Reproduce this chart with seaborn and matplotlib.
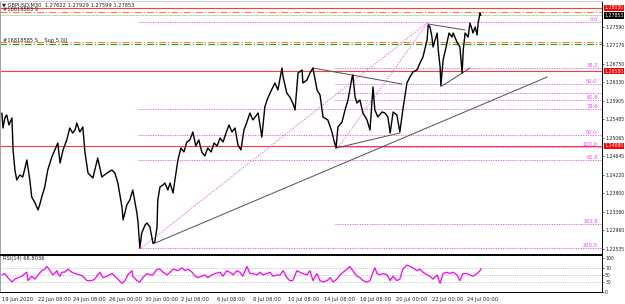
import matplotlib
matplotlib.use("Agg")
import matplotlib.pyplot as plt
import matplotlib.transforms as mtransforms
import seaborn as sns
import pandas as pd

# M30 bars counted from 19 Jun 2020 00:00, one date label every 96 bars
price_bar = [0, 3, 8, 13, 19, 27, 30, 35, 40, 48, 56, 62, 67, 75, 80, 89, 97, 102, 107, 115,
             123, 134, 142, 150, 156, 164, 174, 182, 190, 196, 201, 209, 217, 223, 231, 244, 257, 268, 282, 295,
             303, 311, 322, 325, 335, 343, 351, 362, 365, 370, 375, 384, 389, 397, 405, 410, 416, 418, 424, 432,
             437, 445, 451, 459, 464, 472, 480, 488, 496, 504, 512, 520, 528, 536, 544, 552, 561, 569, 577, 585,
             593, 601, 609, 617, 625, 633, 641, 649, 657, 665, 673, 687, 697, 705, 711, 719, 732, 740, 751, 754,
             764, 772, 780, 786, 794, 805, 807, 818, 826, 834, 845, 853, 861, 874, 885, 890, 896, 901, 912, 920,
             928, 939, 941, 947, 952, 960, 968, 979, 987, 995, 1000, 1008, 1019, 1027, 1035, 1041, 1049, 1059, 1067, 1075,
             1086, 1094, 1102, 1113, 1121, 1129, 1140, 1143, 1148, 1153, 1156, 1167, 1170, 1175, 1177, 1183, 1191, 1199, 1207, 1210,
             1220, 1228, 1234, 1237, 1242, 1250, 1255, 1261, 1263, 1269, 1274, 1277, 1282, 1284]
price_val = [1.25629, 1.25287, 1.25515, 1.25584, 1.25356, 1.25515, 1.24786, 1.24329, 1.24102, 1.24216,
             1.24170, 1.24375, 1.24558, 1.24102, 1.23714, 1.23577, 1.23418, 1.23554, 1.23714, 1.23942,
             1.24329, 1.24626, 1.24786, 1.24945, 1.24489, 1.24786, 1.25014, 1.25287, 1.25173, 1.25242,
             1.25401, 1.25196, 1.25310, 1.24717, 1.24261, 1.24147, 1.24603, 1.24170, 1.24261, 1.24329,
             1.24261, 1.24033, 1.23486, 1.23190, 1.23532, 1.23646, 1.23874, 1.23350, 1.23144, 1.22551,
             1.22893, 1.23076, 1.23122, 1.23030, 1.22665, 1.22688, 1.23030, 1.23646, 1.23942, 1.23988,
             1.24033, 1.23874, 1.24033, 1.23805, 1.24102, 1.24558, 1.24831, 1.24740, 1.24968, 1.25014,
             1.25196, 1.24877, 1.25014, 1.24740, 1.24649, 1.24831, 1.24740, 1.24945, 1.24877, 1.25059,
             1.24968, 1.25173, 1.25356, 1.25196, 1.25287, 1.24900, 1.24786, 1.25242, 1.25424, 1.25629,
             1.25470, 1.25629, 1.25082, 1.25766, 1.25926, 1.26085, 1.26313, 1.26154, 1.26655, 1.26450,
             1.26085, 1.25994, 1.25857, 1.25698, 1.26541, 1.26610, 1.26313, 1.26382, 1.26541, 1.26655,
             1.26154, 1.26040, 1.25538, 1.25470, 1.25196, 1.25014, 1.24831, 1.25310, 1.25424, 1.25698,
             1.25926, 1.26450, 1.26496, 1.25994, 1.25857, 1.25926, 1.25629, 1.25470, 1.25242, 1.26222,
             1.25698, 1.25538, 1.25652, 1.25629, 1.25538, 1.25173, 1.25652, 1.25584, 1.25196, 1.25698,
             1.26313, 1.26450, 1.26564, 1.26610, 1.26769, 1.26906, 1.27294, 1.27636, 1.27590, 1.27362,
             1.27134, 1.27453, 1.27066, 1.26678, 1.26245, 1.26838, 1.27134, 1.27453, 1.27362, 1.27453,
             1.27248, 1.27134, 1.26541, 1.27066, 1.27453, 1.27362, 1.27681, 1.27522, 1.27453, 1.27590,
             1.27408, 1.27681, 1.27909, 1.27853]

rsi_bar = [0, 8, 16, 27, 35, 43, 54, 62, 67, 70, 80, 89, 97, 107, 115, 121, 129, 137, 148, 150,
           156, 161, 169, 177, 188, 196, 209, 217, 228, 241, 249, 257, 263, 271, 282, 295, 303, 311, 322, 330,
           338, 349, 351, 362, 370, 378, 389, 397, 405, 416, 424, 432, 443, 451, 459, 472, 483, 491, 499, 510,
           518, 526, 536, 544, 552, 563, 571, 585, 593, 603, 611, 620, 630, 638, 646, 657, 665, 673, 684, 692,
           700, 711, 719, 727, 738, 746, 754, 764, 772, 780, 791, 799, 807, 818, 826, 834, 845, 853, 861, 872,
           880, 888, 898, 907, 915, 925, 933, 941, 952, 960, 968, 979, 987, 995, 1000, 1006, 1014, 1022, 1033, 1041,
           1049, 1059, 1067, 1075, 1086, 1094, 1102, 1113, 1121, 1129, 1140, 1148, 1156, 1167, 1175, 1183, 1193, 1201, 1210, 1220,
           1228, 1236, 1247, 1255, 1263, 1274, 1282, 1284]
rsi_val = [50, 54, 42, 29, 37.5, 42, 46, 54, 58, 33, 46, 37.5, 50, 62.5, 67, 75, 62.5, 50, 62.5, 54,
           46, 58, 58, 67, 58, 54, 50, 46, 33, 33, 37.5, 50, 58, 42, 46, 54, 46, 37.5, 25, 33,
           50, 62.5, 46, 33, 29, 42, 54, 50, 50, 67, 67, 58, 50, 58, 67, 62.5, 71, 62.5, 67, 58,
           46, 42, 46, 50, 42, 50, 54, 58, 46, 62.5, 58, 50, 62.5, 58, 46, 75, 54, 54, 50, 58,
           50, 54, 58, 46, 50, 50, 62.5, 42, 33, 33, 62.5, 58, 54, 50, 62.5, 33, 54, 33, 29, 33,
           42, 29, 37.5, 50, 58, 67, 75, 62.5, 46, 42, 33, 29, 33, 58, 71, 54, 50, 54, 50, 33,
           46, 33, 37.5, 67, 79, 75, 71, 62.5, 67, 58, 50, 46, 37.5, 50, 25, 54, 58, 54, 58, 50,
           33, 54, 54, 50, 46, 54, 62.5, 68.8]

date_ticks = [0, 96, 192, 288, 384, 480, 576, 672, 768, 864, 960, 1056, 1152, 1248]
date_labels = ["19 Jun 2020", "22 Jun 08:00", "24 Jun 08:00", "26 Jun 00:00", "30 Jun 00:00",
               "2 Jul 08:00", "6 Jul 08:00", "8 Jul 08:00", "10 Jul 08:00", "14 Jul 08:00",
               "16 Jul 08:00", "20 Jul 00:00", "22 Jul 00:00", "24 Jul 00:00"]

price_ticks = [1.27590, 1.27170, 1.26750, 1.26330, 1.25905, 1.25485, 1.25065, 1.24645,
               1.24220, 1.23800, 1.23380, 1.22960, 1.22535]
red_levels = [1.28030, 1.26580, 1.24880]
last_price = 1.27853

# fibonacci levels: label, price, first bar
fib_labels = ["0.0", "38.2", "50.0", "", "61.8", "78.6", "50.0", "100.0", "61.8", "161.8", "200.0"]
fib_prices = [1.27704, 1.26655, 1.26290, 1.26085, 1.25926, 1.25720, 1.25128, 1.24854, 1.24558, 1.23098, 1.22551]
fib_start = [365, 893, 893, 893, 893, 365, 365, 893, 365, 893, 365]

# trend lines (bar, price) pairs
trend_lines = [
    ((405, 1.22643), (1462, 1.26450)),
    ((834, 1.26655), (1073, 1.26290)),
    ((896, 1.24831), (1067, 1.25173)),
    ((1143, 1.27658), (1242, 1.27522)),
    ((1180, 1.26245), (1255, 1.26655)),
]
fib_rays = [
    ((370, 1.22528), (1143, 1.27704)),
    ((901, 1.24831), (1143, 1.27704)),
]

sns.set_style("white")
plt.rcParams['font.family'] = ['DejaVu Sans']
fs = 3.7
fs_axis = 3.3

fig = plt.figure(figsize=(6.25, 3.04), dpi=100)
ax = fig.add_axes([0.0, 0.1645, 0.9632, 0.8322])
ax_rsi = fig.add_axes([0.0, 0.0395, 0.9632, 0.1217], sharex=ax)

x_lo, x_hi = -5, 1609
ax.set_xlim(x_lo, x_hi)
ax.set_ylim(1.22414, 1.28183)
ax_rsi.set_ylim(-0.5, 108.8)

# horizontal objects
for lv in red_levels:
    ax.axhline(lv, color="#ff3b3b", lw=0.8, zorder=2)
ax.axhline(1.27932, color="#ff7f27", lw=0.8, ls=(0, (6, 2, 1, 2)), zorder=2)
ax.axhline(1.27248, color="#ff7f27", lw=0.8, ls=(0, (6, 2, 1, 2)), zorder=2)
ax.axhline(1.27202, color="#22a022", lw=0.8, ls=(0, (6, 2, 1, 2)), zorder=2)
ax.axhline(last_price, color="#c8c8c8", lw=0.6, zorder=1)
ax.text(3, 1.28000, "#16818583 S", fontsize=fs, color="#202020", va="center")
ax.text(3, 1.27290, "#16818585 S    Sup 5.00", fontsize=fs, color="#202020", va="center")

for lab, p, s in zip(fib_labels, fib_prices, fib_start):
    ax.plot([s, x_hi], [p, p], color="#ff40ff", lw=0.7, ls=(0, (1, 1.5)), zorder=2)
    if lab:
        ax.text(x_hi - 12, p + 0.00008, lab, fontsize=fs, color="#ff40ff", ha="right", va="bottom")

for (x0, y0), (x1, y1) in fib_rays:
    ax.plot([x0, x1], [y0, y1], color="#ff40ff", lw=0.7, ls=(0, (1, 1.5)), zorder=2)
for (x0, y0), (x1, y1) in trend_lines:
    ax.plot([x0, x1], [y0, y1], color="#505050", lw=0.7, zorder=3)

df = pd.DataFrame({"bar": price_bar, "price": price_val})
sns.lineplot(data=df, x="bar", y="price", ax=ax, color="black", lw=1.0, sort=False, estimator=None, zorder=4)

rdf = pd.DataFrame({"bar": rsi_bar, "rsi": rsi_val})
for lv in [70, 50, 30]:
    ax_rsi.axhline(lv, color="#b0b0b0", lw=0.6, ls=(0, (1, 1.5)))
sns.lineplot(data=rdf, x="bar", y="rsi", ax=ax_rsi, color="#ff00ff", lw=0.9, sort=False, estimator=None)
ax_rsi.text(3, 98, "RSI(14) 68.8036", fontsize=fs, color="#202020", va="center")

# right price scale
for a in (ax, ax_rsi):
    a.set_xlabel("")
    a.set_ylabel("")
    a.yaxis.tick_right()
    a.tick_params(axis="y", direction="out", length=1.5, width=0.5, pad=0.8, labelsize=fs_axis, colors="#202020")
    for side in ["top", "left", "bottom", "right"]:
        a.spines[side].set_color("#000000")
        a.spines[side].set_linewidth(0.7)
    a.spines["left"].set_color("#a0a0a0")
ax.spines["top"].set_color("#d0d0d0")

ax.set_yticks(price_ticks)
ax.set_yticklabels([f"{v:.5f}" for v in price_ticks])
ax.tick_params(axis="x", which="both", bottom=False, labelbottom=False)
ax_rsi.set_yticks([100, 70, 50, 30, 0])
ax_rsi.set_yticklabels(["100", "70", "50", "30", "0"])

ax_rsi.set_xticks(date_ticks)
ax_rsi.set_xticklabels(date_labels, ha="left")
ax_rsi.tick_params(axis="x", direction="out", length=2, width=0.5, pad=1.5, labelsize=fs, colors="#202020")

# boxed labels on the price scale
trans = mtransforms.blended_transform_factory(ax.transAxes, ax.transData)
for lv in red_levels:
    ax.text(1.004, lv, f"{lv:.5f}", transform=trans, fontsize=fs_axis, color="white", va="center", ha="left",
            bbox=dict(boxstyle="square,pad=0.12", fc="#ff0000", ec="none"), clip_on=False, zorder=10)
ax.text(1.004, last_price, f"{last_price:.5f}", transform=trans, fontsize=fs_axis, color="white", va="center",
        ha="left", bbox=dict(boxstyle="square,pad=0.12", fc="#000000", ec="none"), clip_on=False, zorder=10)

ax.text(0.004, 0.995, "\u25bc GBPUSD,M30  1.27622 1.27929 1.27599 1.27853", transform=ax.transAxes,
        fontsize=fs, color="#202020", va="top")

fig.savefig("out.png", dpi=100)
